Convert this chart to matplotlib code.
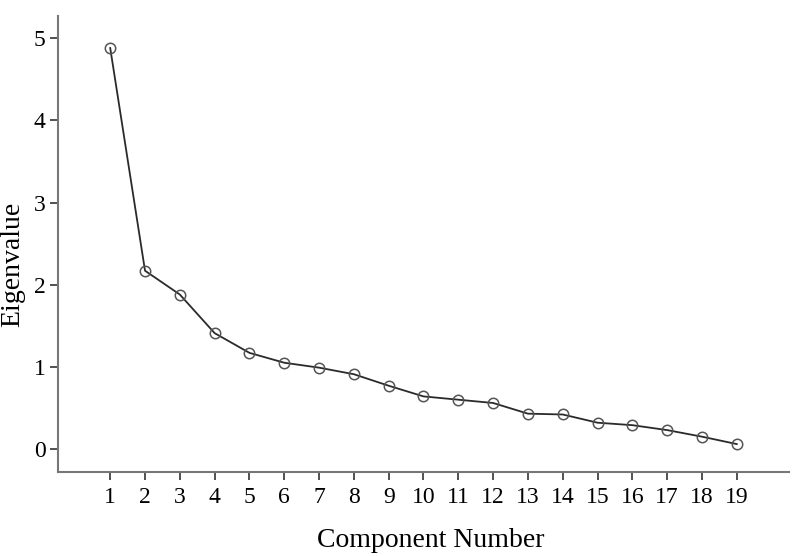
import matplotlib
matplotlib.use("Agg")
import matplotlib.pyplot as plt

components = list(range(1, 20))
eigenvalues = [4.88, 2.17, 1.88, 1.41, 1.17, 1.05, 0.99, 0.91, 0.77, 0.64,
               0.60, 0.56, 0.43, 0.42, 0.32, 0.29, 0.23, 0.15, 0.06]
y_ticks = [0, 1, 2, 3, 4, 5]

plt.rcParams['font.family'] = ['Liberation Serif', 'DejaVu Serif']

fig = plt.figure(figsize=(7.94, 5.56), dpi=100)
L, R, B, T = 58, 789, 472, 16
W, H = R - L, B - T
ax = fig.add_axes([L/794, 1 - B/556, W/794, H/556])

ax.plot(components, eigenvalues, color='#2a2a2a', lw=1.3, marker='o',
        markersize=7.5, markerfacecolor='none', markeredgecolor='#555555',
        markeredgewidth=1.1, zorder=3)

ax.set_xlim(-0.5, 20.5)
ax.set_ylim(-0.28, 5.27)
ax.set_xticks(components)
ax.set_yticks(y_ticks)
ax.tick_params(axis='both', direction='out', length=6, width=1.2,
               color='#333333', labelsize=17, pad=3)
ax.tick_params(axis='x', pad=5)

for side in ['top', 'right']:
    ax.spines[side].set_visible(False)
for side in ['left', 'bottom']:
    ax.spines[side].set_color('#777777')
    ax.spines[side].set_linewidth(1.5)

ax.set_xlabel('Component Number', fontsize=20)
ax.set_ylabel('Eigenvalue', fontsize=20)
ax.xaxis.set_label_coords((431 - L)/W, -(528 - B)/H)
ax.yaxis.set_label_coords(-(L - 25)/W, (B - 264)/H)

fig.savefig('out.png', dpi=100)
